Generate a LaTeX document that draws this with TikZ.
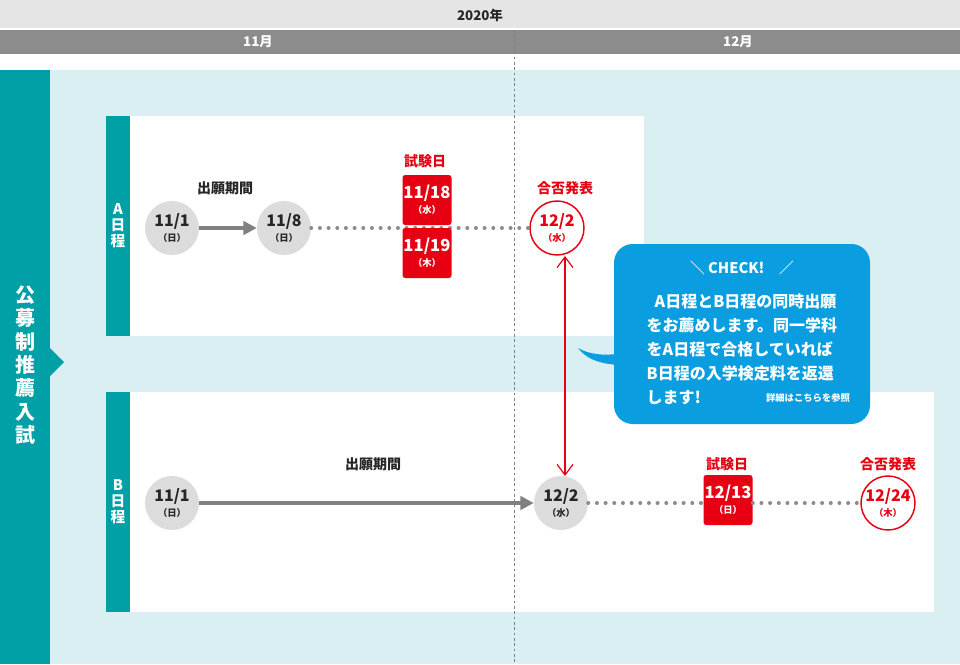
\documentclass[tikz,border=0pt]{standalone}
\usepackage{fontspec}
\setmainfont{Noto Sans CJK JP}
\usetikzlibrary{arrows.meta}
\definecolor{teal}{HTML}{00A0A6}
\definecolor{lbg}{HTML}{D9EFF2}
\definecolor{rd}{HTML}{E60012}
\definecolor{gc}{HTML}{DCDCDC}
\definecolor{bub}{HTML}{0A9EE0}
\definecolor{dbar}{HTML}{8C8C8C}
\tikzset{
 gcirc/.style={circle,fill=gc,minimum size=54pt*0.75,inner sep=0pt,align=center,font=\bfseries\fontsize{12}{12}\selectfont,text=black!85},
 rcirc/.style={circle,fill=white,draw=rd,line width=1.1pt,minimum size=54pt*0.75,inner sep=0pt,align=center,font=\bfseries\fontsize{12}{12}\selectfont,text=rd},
 rbox/.style={rectangle,rounded corners=2pt,fill=rd,text=white,minimum width=49*0.75pt,minimum height=50*0.75pt,inner sep=0pt,align=center,font=\bfseries\fontsize{12.5}{12.5}\selectfont},
 rlab/.style={text=rd,font=\bfseries\fontsize{10.5}{10.5}\selectfont},
 klab/.style={text=black!85,font=\bfseries\fontsize{10.5}{10.5}\selectfont},
 vtxt/.style={text=white,align=center,font=\bfseries\fontsize{11}{12}\selectfont},
 dotl/.style={gray!90,line width=3pt,dash pattern=on 0pt off 6.5pt,line cap=round},
}
\newcommand{\dw}[1]{\\[-1pt]{\fontsize{7}{7}\selectfont （#1）}}
\begin{document}
\begin{tikzpicture}[x=0.75pt,y=-0.75pt]
\useasboundingbox (0,0) rectangle (960,664);
\fill[white] (0,0) rectangle (960,664);
\fill[gray!20] (0,0) rectangle (960,28);
\node[font=\bfseries\fontsize{10}{10}\selectfont,text=black!85] (yr) at (480,15) {2020年};
\fill[dbar] (0,30) rectangle (960,54);
\node[font=\bfseries\fontsize{10}{10}\selectfont,text=white] (m11) at (258,42) {11月};
\node[font=\bfseries\fontsize{10}{10}\selectfont,text=white] (m12) at (738,42) {12月};
\fill[lbg] (50,70) rectangle (960,664);
\fill[teal] (0,70) rectangle (50,664);
\fill[teal] (50,348) -- (64,362) -- (50,376) -- cycle;
\node[vtxt,font=\bfseries\fontsize{15}{17.5}\selectfont] (kobo) at (25,365) {公\\募\\制\\推\\薦\\入\\試};
% A panel
\fill[white] (130,116) rectangle (644,336);
\fill[teal] (106,116) rectangle (130,336);
\node[vtxt] (an) at (118,226) {A\\日\\程};
% B panel
\fill[white] (130,392) rectangle (934,612);
\fill[teal] (106,392) rectangle (130,612);
\node[vtxt] (bn) at (118,502) {B\\日\\程};
\draw[gray,dash pattern=on 2pt off 2pt,line width=0.6pt] (514,30) -- (514,664);
% A row
\node[gcirc] (a1) at (172,228) {11/1\dw{日}};
\node[gcirc] (a2) at (284,228) {11/8\dw{日}};
\node[rcirc] (a3) at (557,228) {12/2\dw{水}};
\draw[dotl] (a2) -- (a3);
\node[rbox] (e1) at (427,200) {11/18\dw{水}};
\node[rbox] (e2) at (427,253) {11/19\dw{木}};
\draw[gray,line width=3pt,-{Triangle[length=10pt,width=10pt]}] (a1) -- (a2);
\node[klab] (ap) at (225,188) {出願期間};
\node[rlab] (ae) at (425,161) {試験日};
\node[rlab] (ar) at (565,188) {合否発表};
% B row
\node[gcirc] (b1) at (172,503) {11/1\dw{日}};
\node[gcirc] (b2) at (561,503) {12/2\dw{水}};
\node[rbox] (b3) at (728,500) {12/13\dw{日}};
\node[rcirc] (b4) at (888,503) {12/24\dw{木}};
\draw[dotl] (b2) -- (b2 -| b3.west);
\draw[dotl] (b3.east |- b4) -- (b4);
\draw[gray,line width=2.6pt,-{Triangle[length=10pt,width=10pt]}] (b1) -- (b2);
\node[klab] (bp) at (373,464) {出願期間};
\node[rlab] (be) at (727,464) {試験日};
\node[rlab] (br) at (888,464) {合否発表};
\draw[rd,line width=0.9pt,{Straight Barb[length=8pt,width=12pt]}-{Straight Barb[length=8pt,width=12pt]}] (565,256) -- (565,476);
% bubble
\fill[bub] (630,352) .. controls (610,356) and (592,356) .. (578,348) .. controls (592,366) and (615,364) .. (630,366) -- cycle;
\fill[bub,rounded corners=14pt] (614,244) rectangle (870,424);
\node[text=white,font=\bfseries\fontsize{11}{11}\selectfont] (ck) at (742,268) {＼ CHECK!　／};
\node[text=white,align=left,font=\bfseries\fontsize{12}{18}\selectfont,anchor=north west] (ct) at (642,289) {\hspace*{0.5em}A日程とB日程の同時出願\\をお薦めします。同一学科\\をA日程で合格していれば\\B日程の入学検定料を返還\\します!};
\node[text=white,font=\bfseries\fontsize{7}{7}\selectfont] (cs) at (808,398) {詳細はこちらを参照};
\end{tikzpicture}
\end{document}
